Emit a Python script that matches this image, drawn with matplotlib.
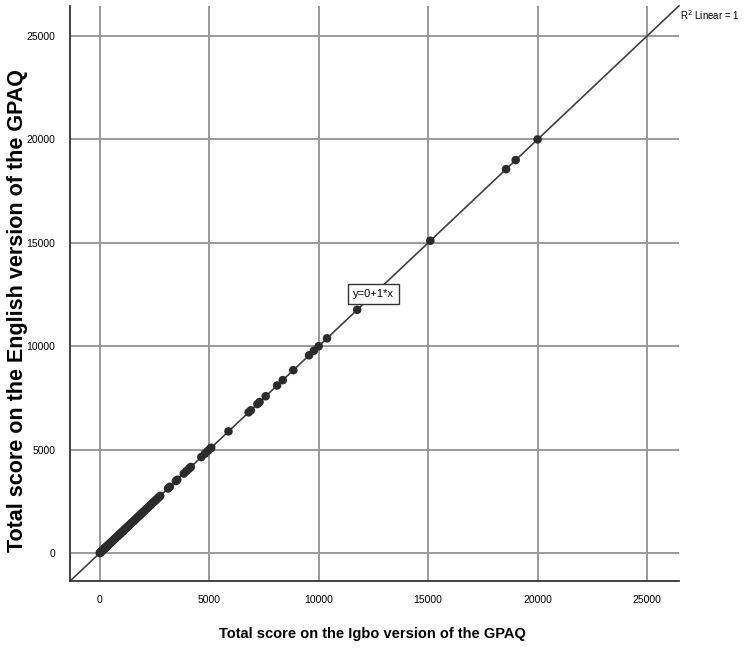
import matplotlib
matplotlib.use("Agg")
import matplotlib.pyplot as plt

# Data (English score equals Igbo score for every respondent, R^2 = 1)
igbo_scores = [0, 20, 40, 60, 90, 120, 150, 180, 210, 240, 270, 300, 330, 360, 400,
               440, 480, 520, 560, 600, 640, 680, 720, 760, 800, 840, 880, 920, 960,
               1000, 1050, 1100, 1150, 1200, 1250, 1300, 1350, 1400, 1450, 1500,
               1560, 1620, 1680, 1740, 1800, 1860, 1920, 1980, 2040, 2100, 2160,
               2220, 2280, 2340, 2400, 2460, 2520, 2580, 2640, 2700, 2760,
               3120, 3200, 3480, 3540, 3840, 3960, 4080, 4160, 4640, 4800, 4940,
               5040, 5090, 5880, 6800, 6900, 7200, 7300, 7580, 8100, 8360, 8840,
               9560, 9780, 10000, 10380, 11760, 15100, 18560, 19000, 20000]
english_scores = list(igbo_scores)

x_ticks = [0, 5000, 10000, 15000, 20000, 25000]
y_ticks = [0, 5000, 10000, 15000, 20000, 25000]
fit_intercept = 0
fit_slope = 1

sans = ['Liberation Sans', 'DejaVu Sans']

W, H = 744, 654
fig = plt.figure(figsize=(W / 100, H / 100), dpi=100)
ax = fig.add_axes([70 / W, 1 - 581 / H, (679 - 70) / W, (581 - 6) / H])

xmin, xmax = -1360, 26460
ymin, ymax = -1354, 26451
ax.set_xlim(xmin, xmax)
ax.set_ylim(ymin, ymax)

ax.set_xticks(x_ticks)
ax.set_yticks(y_ticks)
ax.set_xticklabels([str(t) for t in x_ticks], family=sans, fontsize=7.5)
ax.set_yticklabels([str(t) for t in y_ticks], family=sans, fontsize=7.5)
ax.grid(True, color='#9a9a9a', linewidth=1.4, zorder=0)
ax.tick_params(length=0)
ax.tick_params(axis='x', pad=10)
ax.tick_params(axis='y', pad=10.5)

for s in ['top', 'right']:
    ax.spines[s].set_visible(False)
for s in ['left', 'bottom']:
    ax.spines[s].set_color('#333333')
    ax.spines[s].set_linewidth(1.3)

# fit line
lx = [xmin, xmax]
ly = [fit_intercept + fit_slope * v for v in lx]
ax.plot(lx, ly, color='#404040', linewidth=1.2, zorder=2, clip_on=False)

ax.scatter(igbo_scores, english_scores, s=38, color='#2b2b2b', edgecolors='none', zorder=3)

ax.text(xmax + 50, ly[1] - 450, r'R$^2$ Linear = 1', family=sans, fontsize=7,
        ha='left', va='center')

ax.text(12520, 12520, 'y=0+1*x', family=sans, fontsize=8, ha='center', va='center',
        bbox=dict(boxstyle='square,pad=0.45', facecolor='white', edgecolor='#333333', linewidth=1),
        zorder=5)

fig.text(372 / W, 1 - 634 / H, 'Total score on the Igbo version of the GPAQ', family=sans,
         fontsize=10.5, fontweight='bold', ha='center', va='center')
fig.text(18 / W, 1 - 311 / H, 'Total score on the English version of the GPAQ', family=sans,
         fontsize=15.5, fontweight='bold', ha='center', va='center', rotation=90)

fig.savefig('out.png', dpi=100)
